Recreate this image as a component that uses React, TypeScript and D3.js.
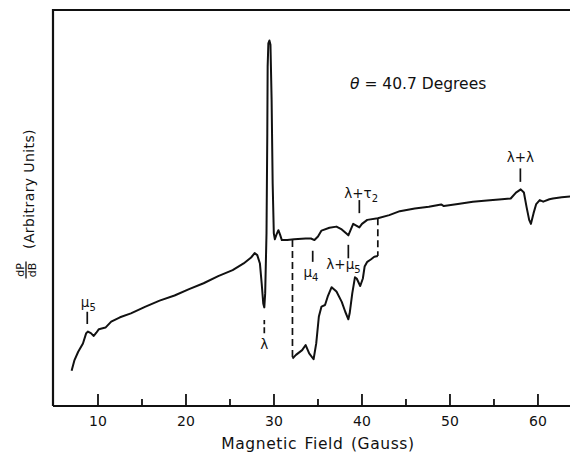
import React from "react";
import * as d3 from "d3";

// Main trace: field (Gauss) and signal (arbitrary units)
const mainField = [7.0, 7.33, 7.75, 8.29, 8.66, 8.86, 9.19, 9.52, 9.81, 10.1, 10.85, 11.5, 12.5, 13.74, 15.4, 17.0, 18.7, 20.35, 22.0, 23.66, 25.3, 26.55, 27.4, 27.8, 28.1, 28.4, 28.6, 28.78, 28.9, 29.0, 29.15, 29.24, 29.28, 29.36, 29.48, 29.6, 29.73, 29.85, 29.98, 30.1, 30.27, 30.5, 30.7, 30.89, 31.5, 32.3, 33.6, 34.2, 34.6, 35.0, 35.4, 36.3, 37.1, 37.7, 38.2, 38.45, 38.7, 39.0, 39.4, 39.7, 40.0, 40.6, 41.8, 43.1, 44.3, 46.0, 47.6, 49.0, 49.3, 50.9, 52.6, 54.2, 55.9, 56.9, 57.5, 58.04, 58.4, 58.7, 59.0, 59.2, 59.5, 59.8, 60.2, 60.6, 61.3, 61.7, 62.7, 63.7];
const mainSignal = [8.9, 11.6, 13.7, 15.8, 18.4, 18.8, 18.4, 17.7, 18.5, 19.4, 19.8, 21.3, 22.4, 23.4, 25.1, 26.6, 27.9, 29.5, 31.0, 32.8, 34.3, 36.0, 37.5, 38.6, 38.1, 36.0, 31.0, 25.9, 24.9, 28.5, 43.6, 68.9, 85.7, 91.6, 92.3, 91.2, 77.3, 56.2, 43.6, 42.1, 43.2, 44.4, 43.2, 41.9, 41.9, 42.1, 42.3, 42.3, 41.9, 42.8, 44.3, 45.0, 45.3, 44.6, 43.6, 43.1, 44.4, 46.0, 45.5, 45.1, 46.0, 47.0, 47.4, 48.2, 49.2, 49.9, 50.3, 50.9, 50.5, 51.0, 51.6, 51.9, 52.2, 52.4, 53.9, 54.7, 53.9, 50.3, 47.0, 46.0, 48.7, 51.0, 52.0, 51.6, 52.2, 52.4, 52.7, 52.9];

// Expanded (higher gain) trace between 32 and 42 Gauss
const expField = [32.1, 32.5, 33.2, 33.6, 34.0, 34.5, 34.8, 35.1, 35.4, 35.8, 36.1, 36.55, 37.1, 37.7, 38.1, 38.45, 38.6, 38.9, 39.2, 39.4, 39.8, 40.1, 40.3, 40.6, 41.0, 41.4, 41.8];
const expSignal = [12.0, 12.9, 14.1, 15.4, 13.3, 11.8, 15.8, 22.6, 25.1, 25.5, 27.6, 30.0, 28.9, 26.3, 23.8, 21.9, 23.4, 28.5, 32.5, 32.2, 30.3, 32.2, 35.2, 36.4, 37.0, 37.7, 37.9];

// Dashed connectors: field, signal on main trace, signal on expanded trace
const connectorField = [32.1, 41.8];
const connectorTop = [41.9, 47.4];
const connectorBottom = [12.0, 37.9];

// Axis ticks
const majorTicks = [10, 20, 30, 40, 50, 60];
const minorTicks = [15, 25, 35, 45, 55];

// Line assignments
const markerNames = ["μ5", "λ", "μ4", "λ+μ5", "λ+τ2", "λ+λ"];
const markerField = [8.78, 28.9, 34.4, 38.45, 39.7, 58.0];
const markerFrom = [20.7, 18.4, 36.4, 37.3, 48.7, 56.6];
const markerTo = [23.8, 21.7, 39.2, 40.7, 52.0, 60.0];
const markerLabelField = [8.9, 28.9, 34.2, 37.9, 39.9, 58.0];
const markerLabelSignal = [25.4, 14.8, 33.0, 35.0, 53.0, 62.0];
const markerDashed = [false, true, false, false, false, false];

const W = 570, H = 455;
const left = 53, top = 10, bottom = 406;

const x = d3.scaleLinear().domain([5, 63.64]).range([54, 570]);
const y = d3.scaleLinear().domain([0, 100]).range([bottom, top]);

const FONT = "'DejaVu Sans', sans-serif";
const INK = "#111";

function Label({ text, cx, cy }: { text: string; cx: number; cy: number }) {
  const parts: { t: string; sub: boolean }[] = [];
  for (const ch of text) {
    const sub = /[0-9]/.test(ch);
    const last = parts[parts.length - 1];
    if (last && last.sub === sub) last.t += ch;
    else parts.push({ t: ch, sub });
  }
  return (
    <text x={cx} y={cy + 2} textAnchor="middle" fontFamily={FONT} fontSize={13.5} fill={INK}>
      {parts.map((p, i) =>
        p.sub ? (
          <tspan key={i} fontSize={10} dy={4}>{p.t}</tspan>
        ) : (
          <tspan key={i} dy={i > 0 && parts[i - 1].sub ? -4 : 0}>{p.t}</tspan>
        )
      )}
    </text>
  );
}

export default function App() {
  const line = d3.line<[number, number]>().x((d) => x(d[0])).y((d) => y(d[1]));
  const mainPts = mainField.map((f, i) => [f, mainSignal[i]] as [number, number]);
  const expPts = expField.map((f, i) => [f, expSignal[i]] as [number, number]);

  return (
    <svg width={W} height={H} style={{ position: "absolute", left: 0, top: 0, background: "#fff" }}>
      {/* frame */}
      <path d={`M${left},${bottom} V${top} H${W}`} fill="none" stroke={INK} strokeWidth={2.2} />
      <line x1={left} x2={W} y1={bottom} y2={bottom} stroke={INK} strokeWidth={2.2} />
      {majorTicks.map((t) => (
        <g key={t}>
          <line x1={x(t)} x2={x(t)} y1={bottom} y2={bottom - 12} stroke={INK} strokeWidth={1.8} />
          <text x={x(t)} y={bottom + 20} textAnchor="middle" fontFamily={FONT} fontSize={14} fill={INK}>{t}</text>
        </g>
      ))}
      {minorTicks.map((t) => (
        <line key={t} x1={x(t)} x2={x(t)} y1={bottom} y2={bottom - 7} stroke={INK} strokeWidth={1.8} />
      ))}
      <text x={318} y={449} textAnchor="middle" fontFamily={FONT} fontSize={15.5} letterSpacing={0.6} wordSpacing={2} fill={INK}>Magnetic Field (Gauss)</text>

      {/* y label */}
      <text transform="translate(34,189) rotate(-90)" textAnchor="middle" fontFamily={FONT} fontSize={14} letterSpacing={0.4} fill={INK}>(Arbitrary Units)</text>
      <g transform="translate(26,270) rotate(-90)">
        <text x={0} y={-2} textAnchor="middle" fontFamily={FONT} fontSize={11} fill={INK}>dP</text>
        <line x1={-8.5} x2={8.5} y1={0} y2={0} stroke={INK} strokeWidth={1.3} />
        <text x={0} y={9.5} textAnchor="middle" fontFamily={FONT} fontSize={11} fill={INK}>dB</text>
      </g>

      {/* traces */}
      <path d={line(mainPts) || ""} fill="none" stroke={INK} strokeWidth={2} strokeLinejoin="round" />
      <path d={line(expPts) || ""} fill="none" stroke={INK} strokeWidth={2} strokeLinejoin="round" />
      {connectorField.map((f, i) => (
        <line key={i} x1={x(f)} x2={x(f)} y1={y(connectorTop[i])} y2={y(connectorBottom[i])} stroke={INK} strokeWidth={1.7} strokeDasharray="7,4" />
      ))}

      {/* markers */}
      {markerNames.map((n, i) => (
        <g key={n}>
          <line x1={x(markerField[i])} x2={x(markerField[i])} y1={y(markerFrom[i])} y2={y(markerTo[i])} stroke={INK} strokeWidth={1.7} strokeDasharray={markerDashed[i] ? "6,3" : undefined} />
          <Label text={n} cx={x(markerLabelField[i])} cy={y(markerLabelSignal[i])} />
        </g>
      ))}

      <text x={350} y={89} fontFamily={FONT} fontSize={15.5} fill={INK}>
        <tspan fontStyle="italic">θ</tspan> = 40.7 Degrees
      </text>
    </svg>
  );
}
